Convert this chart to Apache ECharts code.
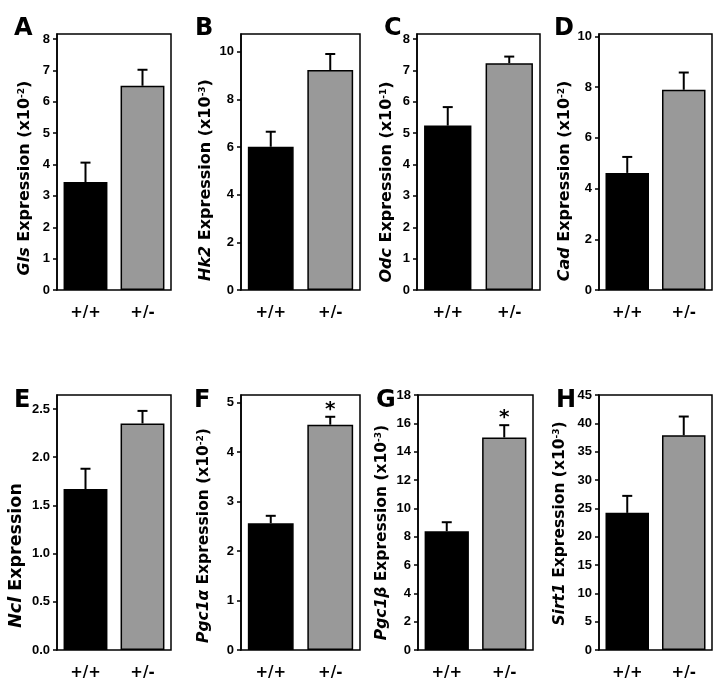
<!DOCTYPE html>
<html>
<head>
<meta charset="utf-8">
<script src="https://cdn.jsdelivr.net/npm/echarts@6/dist/echarts.min.js"></script>
<style>
html,body{margin:0;padding:0;background:#fff;}
#chart{width:723px;height:681px;}
</style>
</head>
<body>
<div id="chart"></div>
<script>
// ---- data ----
const categories = ['+/+', '+/-'];
const panelLetters = ['A', 'B', 'C', 'D', 'E', 'F', 'G', 'H'];
const geneNames = ['Gls', 'Hk2', 'Odc', 'Cad', 'Ncl', 'Pgc1\u03B1', 'Pgc1\u03B2', 'Sirt1'];
const exponents = ['-2', '-3', '-1', '-2', null, '-2', '-3', '-3'];
const wtMeans = [3.44, 6.01, 5.24, 4.62, 1.67, 2.56, 8.38, 24.2];
const wtSem = [0.62, 0.63, 0.59, 0.63, 0.21, 0.15, 0.64, 3.0];
const hetMeans = [6.51, 9.23, 7.23, 7.90, 2.35, 4.55, 15.0, 37.9];
const hetSem = [0.51, 0.67, 0.21, 0.68, 0.13, 0.16, 0.87, 3.3];
const hetSignificant = [false, false, false, false, false, true, true, false];
const yTicks = [
  [0, 1, 2, 3, 4, 5, 6, 7, 8],
  [0, 2, 4, 6, 8, 10],
  [0, 1, 2, 3, 4, 5, 6, 7, 8],
  [0, 2, 4, 6, 8, 10],
  [0, 0.5, 1.0, 1.5, 2.0, 2.5],
  [0, 1, 2, 3, 4, 5],
  [0, 2, 4, 6, 8, 10, 12, 14, 16, 18],
  [0, 5, 10, 15, 20, 25, 30, 35, 40, 45]
];
const yDecimals = [0, 0, 0, 0, 1, 0, 0, 0];
const yFrameTop = [8.16, 10.74, 8.16, 10.1, 2.645, 5.15, 18, 45];

// ---- layout (styles / positions) ----
const FONT = '"DejaVu Sans", Arial, sans-serif';
const TICKFONT = '"Liberation Sans", Arial, sans-serif';
const gridLeft = [57, 241, 417, 599, 57, 241, 418, 599];
const gridWidth = [114, 119, 123, 113, 114, 119, 115, 113];
const gridTop = [34, 34, 34, 34, 395, 395, 395, 395];
const gridHeight = [256, 256, 256, 256, 255, 255, 255, 255];
const nameGap = [24, 27, 22, 26, 32, 29, 28, 31];
const nameShift = [16, 18, 20, 19, 33, 13, 10, 1];
const nameSize = [16, 16, 16, 16, 17.5, 15.5, 15.5, 15.5];
const letterPos = [[9, 12], [190, 12], [379, 12], [549, 12], [9, 384], [189, 384], [371, 384], [551, 384]];

const grids = [], xAxes = [], yAxes = [], series = [], titles = [];
const barColors = ['#000000', '#999999'];

for (let i = 0; i < 8; i++) {
  titles.push({
    text: panelLetters[i], left: letterPos[i][0], top: letterPos[i][1],
    textStyle: { fontFamily: FONT, fontSize: 24, fontWeight: 'bold', color: '#000' }
  });
  grids.push({
    left: gridLeft[i], top: gridTop[i], width: gridWidth[i], height: gridHeight[i],
    show: true, borderColor: '#000', borderWidth: 1.5, backgroundColor: 'transparent'
  });
  xAxes.push({
    type: 'category', gridIndex: i, data: categories,
    axisLine: { show: false }, axisTick: { show: false },
    axisLabel: { fontFamily: FONT, fontSize: 15, fontWeight: 'bold', color: '#000', margin: 16 }
  });
  const nm = exponents[i]
    ? '{it|' + geneNames[i] + '}{n| Expression (x10}{sup|' + exponents[i] + '}{n|)}'
    : '{it|' + geneNames[i] + '}{n| Expression}';
  const dec = yDecimals[i];
  const fs = nameSize[i];
  yAxes.push({
    type: 'value', gridIndex: i, min: 0, max: yFrameTop[i],
    splitLine: { show: false },
    axisLine: { show: true, lineStyle: { color: '#000', width: 1.5 } },
    axisTick: { show: true, length: 4, lineStyle: { color: '#000', width: 1.5 }, customValues: yTicks[i] },
    axisLabel: {
      customValues: yTicks[i], fontFamily: TICKFONT, fontSize: 13, fontWeight: 'bold', color: '#000', margin: 7,
      formatter: v => Number(v).toFixed(dec)
    },
    name: nm, nameLocation: 'middle', nameRotate: 90, nameGap: nameGap[i],
    nameTextStyle: {
      padding: [0, nameShift[i] * 2, 0, 0],
      rich: {
        it: { fontFamily: FONT, fontSize: fs, fontWeight: 'bold', fontStyle: 'italic', color: '#000' },
        n: { fontFamily: FONT, fontSize: fs, fontWeight: 'bold', color: '#000' },
        sup: { fontFamily: FONT, fontSize: 9, fontWeight: 'bold', color: '#000', verticalAlign: 'top', padding: [0, 0, 6, 0] }
      }
    }
  });
  series.push({
    type: 'bar', xAxisIndex: i, yAxisIndex: i, barWidth: '77%',
    data: [
      { value: wtMeans[i], itemStyle: { color: barColors[0] } },
      { value: hetMeans[i], itemStyle: { color: barColors[1] } }
    ],
    itemStyle: { borderColor: '#000', borderWidth: 1.5 },
    animation: false, silent: true
  });
  series.push({
    type: 'custom', xAxisIndex: i, yAxisIndex: i, z: 5,
    data: [[0, wtMeans[i], wtSem[i], 0], [1, hetMeans[i], hetSem[i], hetSignificant[i] ? 1 : 0]],
    renderItem: function (params, api) {
      const x = api.value(0), m = api.value(1), s = api.value(2), sig = api.value(3);
      const p0 = api.coord([x, m]);
      const p1 = api.coord([x, m + s]);
      const children = [
        { type: 'line', shape: { x1: p0[0], y1: p0[1], x2: p1[0], y2: p1[1] }, style: { stroke: '#000', lineWidth: 2 } },
        { type: 'line', shape: { x1: p1[0] - 5, y1: p1[1], x2: p1[0] + 5, y2: p1[1] }, style: { stroke: '#000', lineWidth: 2 } }
      ];
      if (sig) {
        children.push({
          type: 'text', x: p1[0], y: p1[1] - 7,
          style: { text: '*', fontFamily: FONT, fontSize: 20, fontWeight: 'bold', fill: '#000', align: 'center', verticalAlign: 'middle' }
        });
      }
      return { type: 'group', children: children };
    },
    animation: false, silent: true
  });
}

const chart = echarts.init(document.getElementById('chart'), null, { renderer: 'canvas' });
chart.setOption({
  animation: false,
  backgroundColor: '#fff',
  title: titles,
  grid: grids,
  xAxis: xAxes,
  yAxis: yAxes,
  series: series
});
</script>
</body>
</html>
